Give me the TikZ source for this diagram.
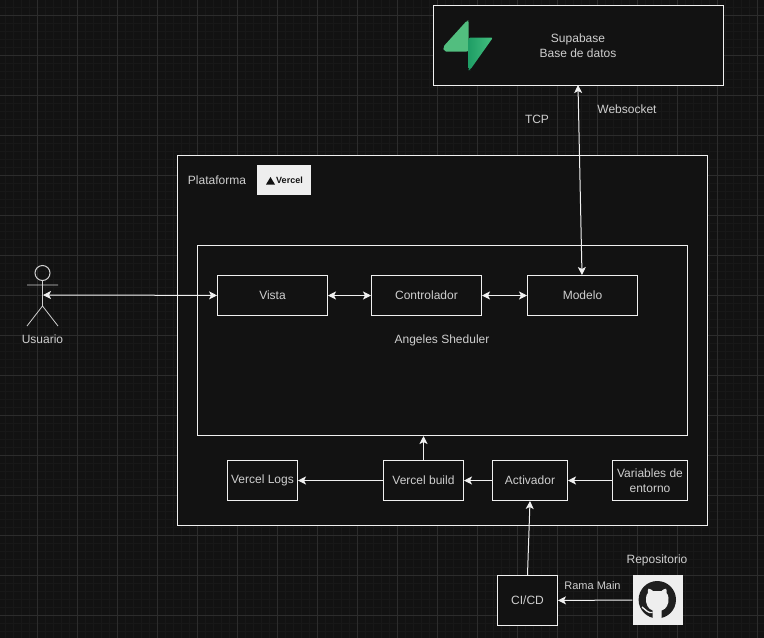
\documentclass[tikz,border=0pt]{standalone}
\usepackage{fontspec}
\setmainfont{Liberation Sans}
\usetikzlibrary{arrows.meta}
\begin{document}
\begin{tikzpicture}[x=1pt,y=-1pt,
	caja/.style={draw=linea,fill=fondo,line width=1pt,text=texto,align=center,inner sep=0pt,font=\fontsize{12}{15}\selectfont},
	etiqueta/.style={text=texto,align=center,inner sep=0pt,font=\fontsize{12}{15}\selectfont},
	punta/.tip={Stealth[length=8pt,width=8pt,inset=2pt]},
	flecha/.style={draw=linea,line width=1pt,-punta},
	doble/.style={draw=linea,line width=1pt,punta-punta}]
	\definecolor{fondo}{HTML}{121212}
	\definecolor{linea}{HTML}{F0F0F0}
	\definecolor{texto}{HTML}{CFCFCF}
	\definecolor{rejilla}{HTML}{181818}
	\definecolor{rejillafuerte}{HTML}{2C2C2C}
	\definecolor{blanco}{HTML}{EEEEEE}
	\definecolor{verdea}{HTML}{52BE7F}
	\definecolor{verdeb}{HTML}{1F9E66}
	\definecolor{verdec}{HTML}{45C07F}
	\useasboundingbox (0,0) rectangle (764,638);
	\fill[fondo] (0,0) rectangle (764,638);
	\foreach \n in {0,...,95} {\draw[rejilla,line width=1pt] (5+8*\n,0) -- (5+8*\n,638);}
	\foreach \n in {0,...,79} {\draw[rejilla,line width=1pt] (0,7+8*\n) -- (764,7+8*\n);}
	\foreach \n in {0,...,18} {\draw[rejillafuerte,line width=.8pt] (37+40*\n,0) -- (37+40*\n,638);}
	\foreach \n in {0,...,15} {\draw[rejillafuerte,line width=.8pt] (0,15+40*\n) -- (764,15+40*\n);}

	\node[caja,minimum width=290pt,minimum height=80pt] (supabase) at (578.5,45.5) {};
	\node[etiqueta] (supabasetxt) at (578,45.5) {Supabase\\Base de datos};
	\node[caja,minimum width=530pt,minimum height=370pt] (plataforma) at (442.5,340.5) {};
	\node[etiqueta] (plataformatxt) at (217,180) {Plataforma};
	\node[fill=blanco,minimum width=54pt,minimum height=30pt,inner sep=0pt] (vercel) at (284,180) {};
	\node[inner sep=0pt,text=fondo,font=\bfseries\fontsize{9}{10}\selectfont] (vercelmarca) at (289.5,180) {Vercel};
	\node[caja,minimum width=490pt,minimum height=190pt] (angeles) at (442.5,340.5) {};
	\node[etiqueta] (angelestxt) at (442,340) {Angeles Sheduler};

	\node[caja,minimum width=110pt,minimum height=40pt] (vista) at (272.5,295.5) {Vista};
	\node[caja,minimum width=110pt,minimum height=40pt] (controlador) at (426.5,295.5) {Controlador};
	\node[caja,minimum width=110pt,minimum height=40pt] (modelo) at (582.5,295.5) {Modelo};
	\node[caja,minimum width=70pt,minimum height=40pt] (logs) at (262.5,480.5) {Vercel Logs};
	\node[caja,minimum width=80pt,minimum height=40pt] (build) at (423.5,480.5) {Vercel build};
	\node[caja,minimum width=75pt,minimum height=40pt] (activador) at (530,480.5) {Activador};
	\node[caja,minimum width=75pt,minimum height=40pt] (variables) at (650,480.5) {Variables de\\entorno};
	\node[caja,minimum width=60pt,minimum height=50pt] (cicd) at (527.5,600.5) {CI/CD};
	\node[fill=blanco,minimum width=50pt,minimum height=50pt,inner sep=0pt] (repo) at (657.5,600) {};
	\node[etiqueta] (repotxt) at (657,560) {Repositorio};
	\node[etiqueta,font=\fontsize{11}{13}\selectfont] (ramatxt) at (592.5,586) {Rama Main};
	\node[etiqueta] (tcptxt) at (537,119.5) {TCP};
	\node[etiqueta] (websockettxt) at (627,109.5) {Websocket};
	\node[etiqueta] (usuariotxt) at (42.5,339) {Usuario};

	\draw[texto,line width=1pt] (42.5,273) circle (7.5);
	\draw[texto,line width=.8pt] (42.5,280.5) -- (42.5,306) (27,285) -- (58,285) (27,326) -- (42.5,306) -- (58,326);
	\coordinate (usuario) at (43,295);
	\coordinate (modelotop) at (582,275);
	\coordinate (supabasebot) at (578,85);

	\draw[doble] (usuario) -- (vista);
	\draw[doble] (vista) -- (controlador);
	\draw[doble] (controlador) -- (modelo);
	\draw[doble] (modelotop) -- (supabasebot);
	\draw[flecha] (build.north) -- (angeles.south -| build.north);
	\draw[flecha] (build) -- (logs);
	\draw[flecha] (activador) -- (build);
	\draw[flecha] (variables) -- (activador);
	\draw[flecha] (cicd.north) -- (activador.south);
	\draw[flecha] (repo) -- (cicd);

	\fill[fondo] (270.5,177) -- (266,184.5) -- (275,184.5) -- cycle;
	\fill[verdea,rounded corners=2pt] (467,20.5) -- (468.7,20.5) -- (468.7,51.5) -- (444,51.5) -- (443,47) -- cycle;
	\shade[left color=verdeb,right color=verdec,rounded corners=2pt] (468.7,37.5) -- (493,37.5) -- (470,70) -- (468.7,70) -- cycle;

	\fill[black!88!white] (657.3,599.7) circle (18.7);
	\fill[blanco] (652.7,619) -- (652.7,610.5) .. controls (648,609) and (645.5,604) .. (646,598) .. controls (646,595.5) and (647,594) .. (648,593) .. controls (647.5,591.5) and (647.7,590) .. (648.5,588.7) .. controls (650,588.7) and (652,589.7) .. (653,591) -- (661.5,591) .. controls (662.5,589.7) and (664.5,588.7) .. (666,588.7) .. controls (666.8,590) and (667,591.5) .. (666.5,593) .. controls (667.5,594) and (668.5,595.5) .. (668.5,598) .. controls (669,604) and (666.5,609) .. (661.7,610.5) -- (661.7,619) -- cycle;
	\draw[blanco,line width=1.4pt] (652.7,612.5) .. controls (648,613.5) and (646,610) .. (642,607);
\end{tikzpicture}
\end{document}
